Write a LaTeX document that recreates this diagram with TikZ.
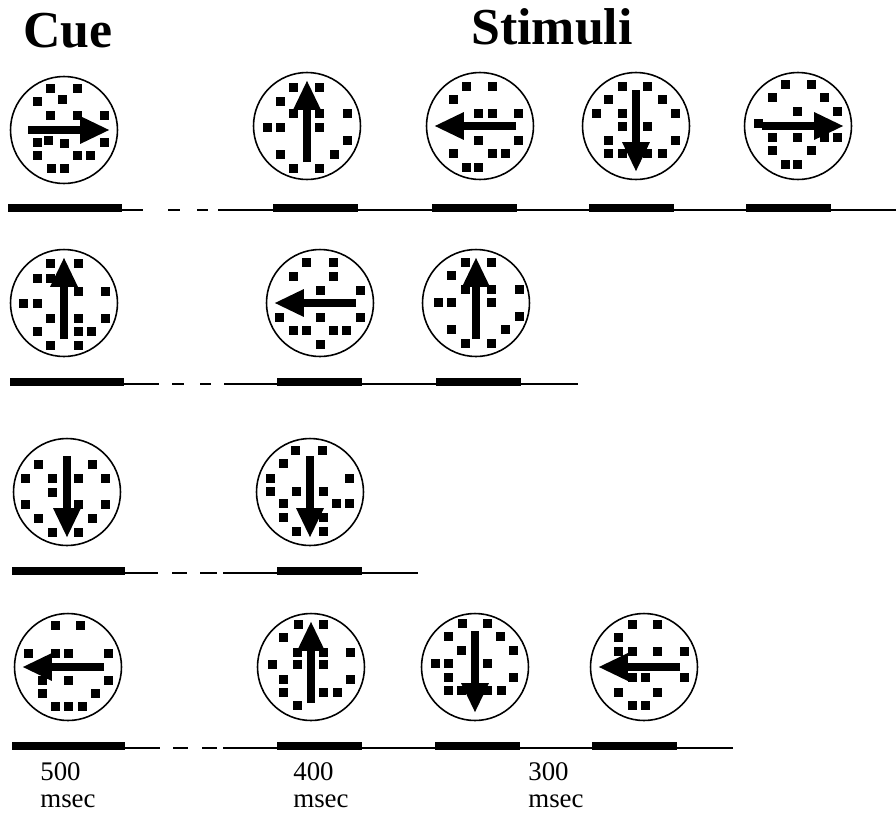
\documentclass[tikz,border=0pt]{standalone}
\usepackage{fontspec}
\setmainfont{Liberation Serif}
\usetikzlibrary{arrows.meta}

\tikzset{
  disp/.style={draw, circle, line width=0.9pt, inner sep=0pt, minimum size=2.14cm},
  motion/.style={line width=4.4pt, -{Triangle[length=17pt,width=14.5pt]}},
  tline/.style={line width=1.1pt},
  gapline/.style={line width=1.6pt},
  heading/.style={inner sep=0pt, font=\fontsize{29.5}{34}\selectfont\bfseries},
  timelabel/.style={inner sep=0pt, font=\fontsize{15.3}{18}\selectfont}
}

% square dots of one display, given relative to its centre
\newcommand{\dotfield}[2]{%
  \foreach \a/\b in {#2}
    \fill ([shift={(\a-4.5,\b-4.5)}]#1.center) rectangle ++(9,9);}
% arrow through a display, direction (dx,dy)
\newcommand{\motionarrow}[3]{%
  \draw[motion] ([shift={(-36*#2,-36*#3)}]#1.center) -- ([shift={(46*#2,46*#3)}]#1.center);}

\begin{document}
\begin{tikzpicture}[x=0.02cm, y=-0.02cm]
    \useasboundingbox (0,0) rectangle (896,812);

    % Headings
    \node[heading, anchor=base west] (cue) at (23,47) {Cue};
    \node[heading, anchor=base west] (stimuli) at (471,44) {Stimuli};

    % Row 1
    \node[disp] (a1) at (64,130) {};
    \node[disp] (a2) at (307,126) {};
    \node[disp] (a3) at (480,126) {};
    \node[disp] (a4) at (636,126) {};
    \node[disp] (a5) at (798,126) {};
    \dotfield{a1}{-14/-42,13/-42,-27/-29,-2/-31,-14/-15,13/-15,40/-15,-27/12,-16/10,0/13,40/12,-27/25,13/25,26/25,-13/38,0/38}
    \dotfield{a2}{-14/-39,12/-39,-27/-25,-14/-13,12/-13,40/-13,-40/1,-27/1,12/1,40/14,-27/28,27/28,-14/42,12/42}
    \dotfield{a3}{-14/-40,12/-40,-27/-27,-2/-13,12/-13,38/-13,-2/14,38/14,-27/27,12/27,25/27,-14/41,-2/41}
    \dotfield{a4}{-14/-40,11/-40,-28/-27,26/-27,-40/-13,-14/-13,39/-13,-14/0,11/0,-28/14,39/14,-28/27,-14/27,11/27,26/27}
    \dotfield{a5}{-13/-42,13/-42,-26/-29,26/-29,-1/-15,39/-15,-40/-3,-26/11,-1/11,26/11,39/11,-26/24,13/24,-13/38,-1/38}
    \motionarrow{a1}{1}{0}
    \motionarrow{a2}{0}{-1}
    \motionarrow{a3}{-1}{0}
    \motionarrow{a4}{0}{1}
    \motionarrow{a5}{1}{0}

    % Row 1 time line
    \fill (8,204) rectangle (122,212);
    \draw[tline] (122,210) -- (143,210);
    \draw[gapline] (168,210) -- (180,210) (197,210) -- (208,210);
    \draw[tline] (218,210) -- (896,210);
    \foreach \x in {273,432,589,746}
      \fill (\x,204) rectangle ++(85,8);

    % Row 2
    \node[disp] (b1) at (64,303) {};
    \node[disp] (b2) at (320,303) {};
    \node[disp] (b3) at (476,303) {};
    \dotfield{b1}{-14/-40,14/-40,-27/-25,-14/-25,14/-12,41/-12,-41/0,-27/0,-14/15,14/15,41/15,-27/28,14/28,27/28,-14/42,14/42}
    \dotfield{b2}{-14/-41,13/-41,-27/-27,13/-27,0/-13,40/-13,-41/14,0/14,40/14,-27/27,-14/27,13/27,26/27,0/41}
    \dotfield{b3}{-11/-41,15/-41,-25/-28,-11/-14,15/-14,43/-14,-38/-1,-25/-1,15/-1,43/13,-25/26,29/26,-11/40,15/40}
    \motionarrow{b1}{0}{-1}
    \motionarrow{b2}{-1}{0}
    \motionarrow{b3}{0}{-1}

    % Row 2 time line
    \fill (10,378) rectangle (124,386);
    \draw[tline] (124,384) -- (159,384);
    \draw[gapline] (172,384) -- (184,384) (200,384) -- (211,384);
    \draw[tline] (224,384) -- (578,384);
    \foreach \x in {277,436}
      \fill (\x,378) rectangle ++(85,8);

    % Row 3
    \node[disp] (c1) at (67,492) {};
    \node[disp] (c2) at (310,492) {};
    \dotfield{c1}{-29/-28,25/-28,-42/-14,-15/-14,11/-14,38/-14,-15/0,-42/12,11/12,38/12,-29/26,25/26,-15/40,11/40}
    \dotfield{c2}{-15/-42,12/-42,-27/-29,-40/-14,39/-14,-40/-1,-14/-1,13/-1,-27/11,26/11,39/11,-27/25,13/25,-14/39,13/39}
    \motionarrow{c1}{0}{1}
    \motionarrow{c2}{0}{1}

    % Row 3 time line
    \fill (12,567) rectangle (125,575);
    \draw[tline] (125,573) -- (158,573);
    \draw[gapline] (172,573) -- (187,573) (200,573) -- (217,573);
    \draw[tline] (223,573) -- (418,573);
    \fill (277,567) rectangle ++(85,8);

    % Row 4
    \node[disp] (d1) at (68,667) {};
    \node[disp] (d2) at (311,667) {};
    \node[disp] (d3) at (475,667) {};
    \node[disp] (d4) at (644,667) {};
    \dotfield{d1}{-13/-42,12/-42,-40/-14,-13/-14,0/-14,40/-14,-26/13,0/13,40/13,-26/26,27/26,-13/39,0/39,14/39}
    \dotfield{d2}{-13/-43,12/-43,-28/-30,-14/-15,12/-15,39/-15,-39/-3,-14/-3,12/-3,-28/12,39/12,-28/25,12/25,26/25,-14/38}
    \dotfield{d3}{-13/-44,12/-44,-27/-31,25/-31,-14/-17,38/-17,-40/-4,-27/-4,12/-4,-27/10,38/10,-27/23,-14/23,12/23,26/23}
    \dotfield{d4}{-12/-43,13/-43,-26/-30,-26/-16,-12/-16,13/-16,40/-16,-12/10,1/10,40/10,-26/25,13/25,-12/38,1/38}
    \motionarrow{d1}{-1}{0}
    \motionarrow{d2}{0}{-1}
    \motionarrow{d3}{0}{1}
    \motionarrow{d4}{-1}{0}

    % Row 4 time line
    \fill (12,742) rectangle (125,750);
    \draw[tline] (125,748) -- (160,748);
    \draw[gapline] (173,748) -- (188,748) (202,748) -- (217,748);
    \draw[tline] (223,748) -- (733,748);
    \foreach \x in {277,435,592}
      \fill (\x,742) rectangle ++(85,8);

    % Durations
    \node[timelabel, anchor=base west] (n500) at (40,780) {500};
    \node[timelabel, anchor=base west] (m500) at (40,807) {msec};
    \node[timelabel, anchor=base west] (n400) at (293,780) {400};
    \node[timelabel, anchor=base west] (m400) at (293,807) {msec};
    \node[timelabel, anchor=base west] (n300) at (528,780) {300};
    \node[timelabel, anchor=base west] (m300) at (528,807) {msec};
\end{tikzpicture}
\end{document}
